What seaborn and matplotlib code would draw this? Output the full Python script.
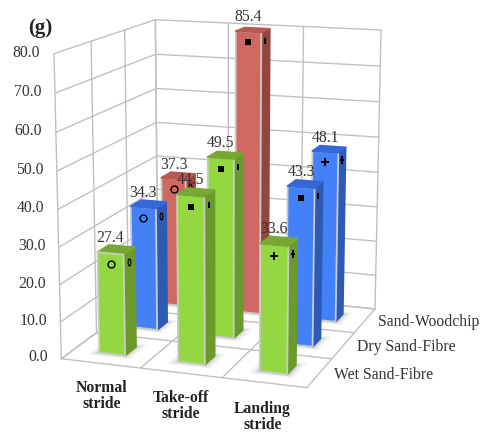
import matplotlib
matplotlib.use("Agg")
import matplotlib.pyplot as plt
import seaborn as sns
from matplotlib.markers import MarkerStyle
from matplotlib.transforms import Affine2D
from mpl_toolkits.mplot3d import proj3d
from mpl_toolkits.mplot3d.art3d import Poly3DCollection

# Data
strides = ["Normal\nstride", "Take-off\nstride", "Landing\nstride"]
surfaces = ["Wet Sand-Fibre", "Dry Sand-Fibre", "Sand-Woodchip"]
wet_values = [27.4, 44.5, 33.6]
dry_values = [34.3, 49.5, 43.3]
wood_values = [37.3, 85.4, 48.1]
wet_colors = ["green", "green", "green"]
dry_colors = ["blue", "green", "blue"]
wood_colors = ["red", "red", "blue"]
wet_marks = ["o", "s", "P"]
dry_marks = ["o", "s", "s"]
wood_marks = ["o", "s", "P"]
z_ticks = [0, 10, 20, 30, 40, 50, 60, 70, 80]

values = [wet_values, dry_values, wood_values]
colors = [wet_colors, dry_colors, wood_colors]
marks = [wet_marks, dry_marks, wood_marks]

# front, side, top
palette = {
    "green": ["#93d840", "#6a9a2c", "#76a832"],
    "blue": ["#4480f8", "#2c5ab4", "#3468d8"],
    "red": ["#ce6860", "#94463e", "#b85850"],
}
grid_col = "#c0c0c0"
edge_col = "#c8ccc8"
text_col = "#333333"
z_max = 80

sns.set_theme(style="white")
plt.rcParams["font.family"] = ["Liberation Serif", "DejaVu Serif"]

fig = plt.figure(figsize=(4.85, 4.32), dpi=100)
# view fitted by hand against the frame of the reference
ax = fig.add_axes([-22.9 / 485, 20.2 / 432, 1, 1], projection="3d", computed_zorder=False)
ax.set_xlim(0, 3)
ax.set_ylim(0, 3)
ax.set_zlim(0, z_max)
ax.set_axis_off()
ax.view_init(elev=13.261, azim=-70.878)
ax.set_proj_type("persp", focal_length=0.712)
ax.set_box_aspect((1, 1.036, 1.203), zoom=1.049)
proj = ax.get_proj()


def line(xs, ys, zs):
    ax.plot(xs, ys, zs, color=grid_col, lw=1.0, zorder=1)


def label(x, y, z, s, **kw):
    # flat text placed at the projected spot
    px, py, _ = proj3d.proj_transform(x, y, z, proj)
    ax.text2D(px, py, s, transform=ax.transData, va="center", **kw)


# walls and floor
for z in z_ticks:
    line([0, 0], [0, 3], [z, z])
    line([0, 3], [3, 3], [z, z])
for k in range(4):
    line([0, 0], [k, k], [0, z_max])
    line([k, k], [3, 3], [0, z_max])
    line([k, k], [0, 3], [0, 0])
    line([0, 3], [k, k], [0, 0])

bar_w = 0.33
order = 10
# back row first, so nearer bars paint over
for row in [2, 1, 0]:
    for col in range(3):
        val = values[row][col]
        # bars stop at the top of the axis, the label keeps the real value
        h = min(val, z_max)
        front, side, top = palette[colors[row][col]]
        x0 = col + 0.5 - bar_w / 2
        y0 = row + 0.5 - bar_w / 2
        x1, y1 = x0 + bar_w, y0 + bar_w
        # soft shadow on the floor
        for grow, alpha in [(0.10, 0.10), (0.06, 0.14), (0.03, 0.18)]:
            ax.add_collection3d(Poly3DCollection(
                [[(x0 - grow, y0 - grow, 0), (x1 + grow, y0 - grow, 0),
                  (x1 + grow, y1 + grow, 0), (x0 - grow, y1 + grow, 0)]],
                facecolor="#808080", edgecolor="none", alpha=alpha, zorder=order))
        order += 1
        # faces order: bottom, top, front, back, left, right
        ax.bar3d(x0, y0, 0, bar_w, bar_w, h,
                 color=[top, top, front, side, side, side],
                 edgecolor=["none", top, edge_col, "none", "none", side],
                 linewidth=1.3, shade=False, zorder=order)
        order += 1
        # series point marker on front and side face
        mk = marks[row][col]
        mz = h - 2.9
        hollow = mk == "o"
        size = 5.5 if mk == "P" else 5 if hollow else 4.5
        ax.plot([col + 0.5], [y0], [mz], marker=mk, ms=size,
                mfc="none" if hollow else "black", mec="black", mew=1.0 if hollow else 0,
                ls="none", zorder=order)
        side_mk = MarkerStyle(mk, transform=Affine2D().scale(0.4, 1.0))
        ax.plot([x1], [row + 0.5], [mz], marker=side_mk, ms=size,
                mfc="none" if hollow else "black", mec="black", mew=0.8 if hollow else 0,
                ls="none", zorder=order)
        order += 1
        label(col + 0.5, y0, h + 4.0, f"{val:.1f}", ha="center",
              fontsize=11.3, color=text_col, zorder=order)
        order += 1

# tick and category text
for z in z_ticks:
    label(-0.17, 0, z, f"{z:.1f}", ha="right", fontsize=11.3, color=text_col, zorder=300)
for i, name in enumerate(strides):
    label(i * 0.93 + 0.945, -0.975, 0, name, ha="center", fontsize=11.3,
          fontweight="bold", color="#222222", linespacing=1.0, zorder=300)
for i, name in enumerate(surfaces):
    label(3.17, i + 0.5, 0, name, ha="left", fontsize=11.3, color=text_col, zorder=300)
fig.text(40 / 485, 1 - 28 / 432, "(g)", ha="center", va="center", fontsize=15,
         fontweight="bold", color="#222222")

fig.savefig("out.png", dpi=100)
